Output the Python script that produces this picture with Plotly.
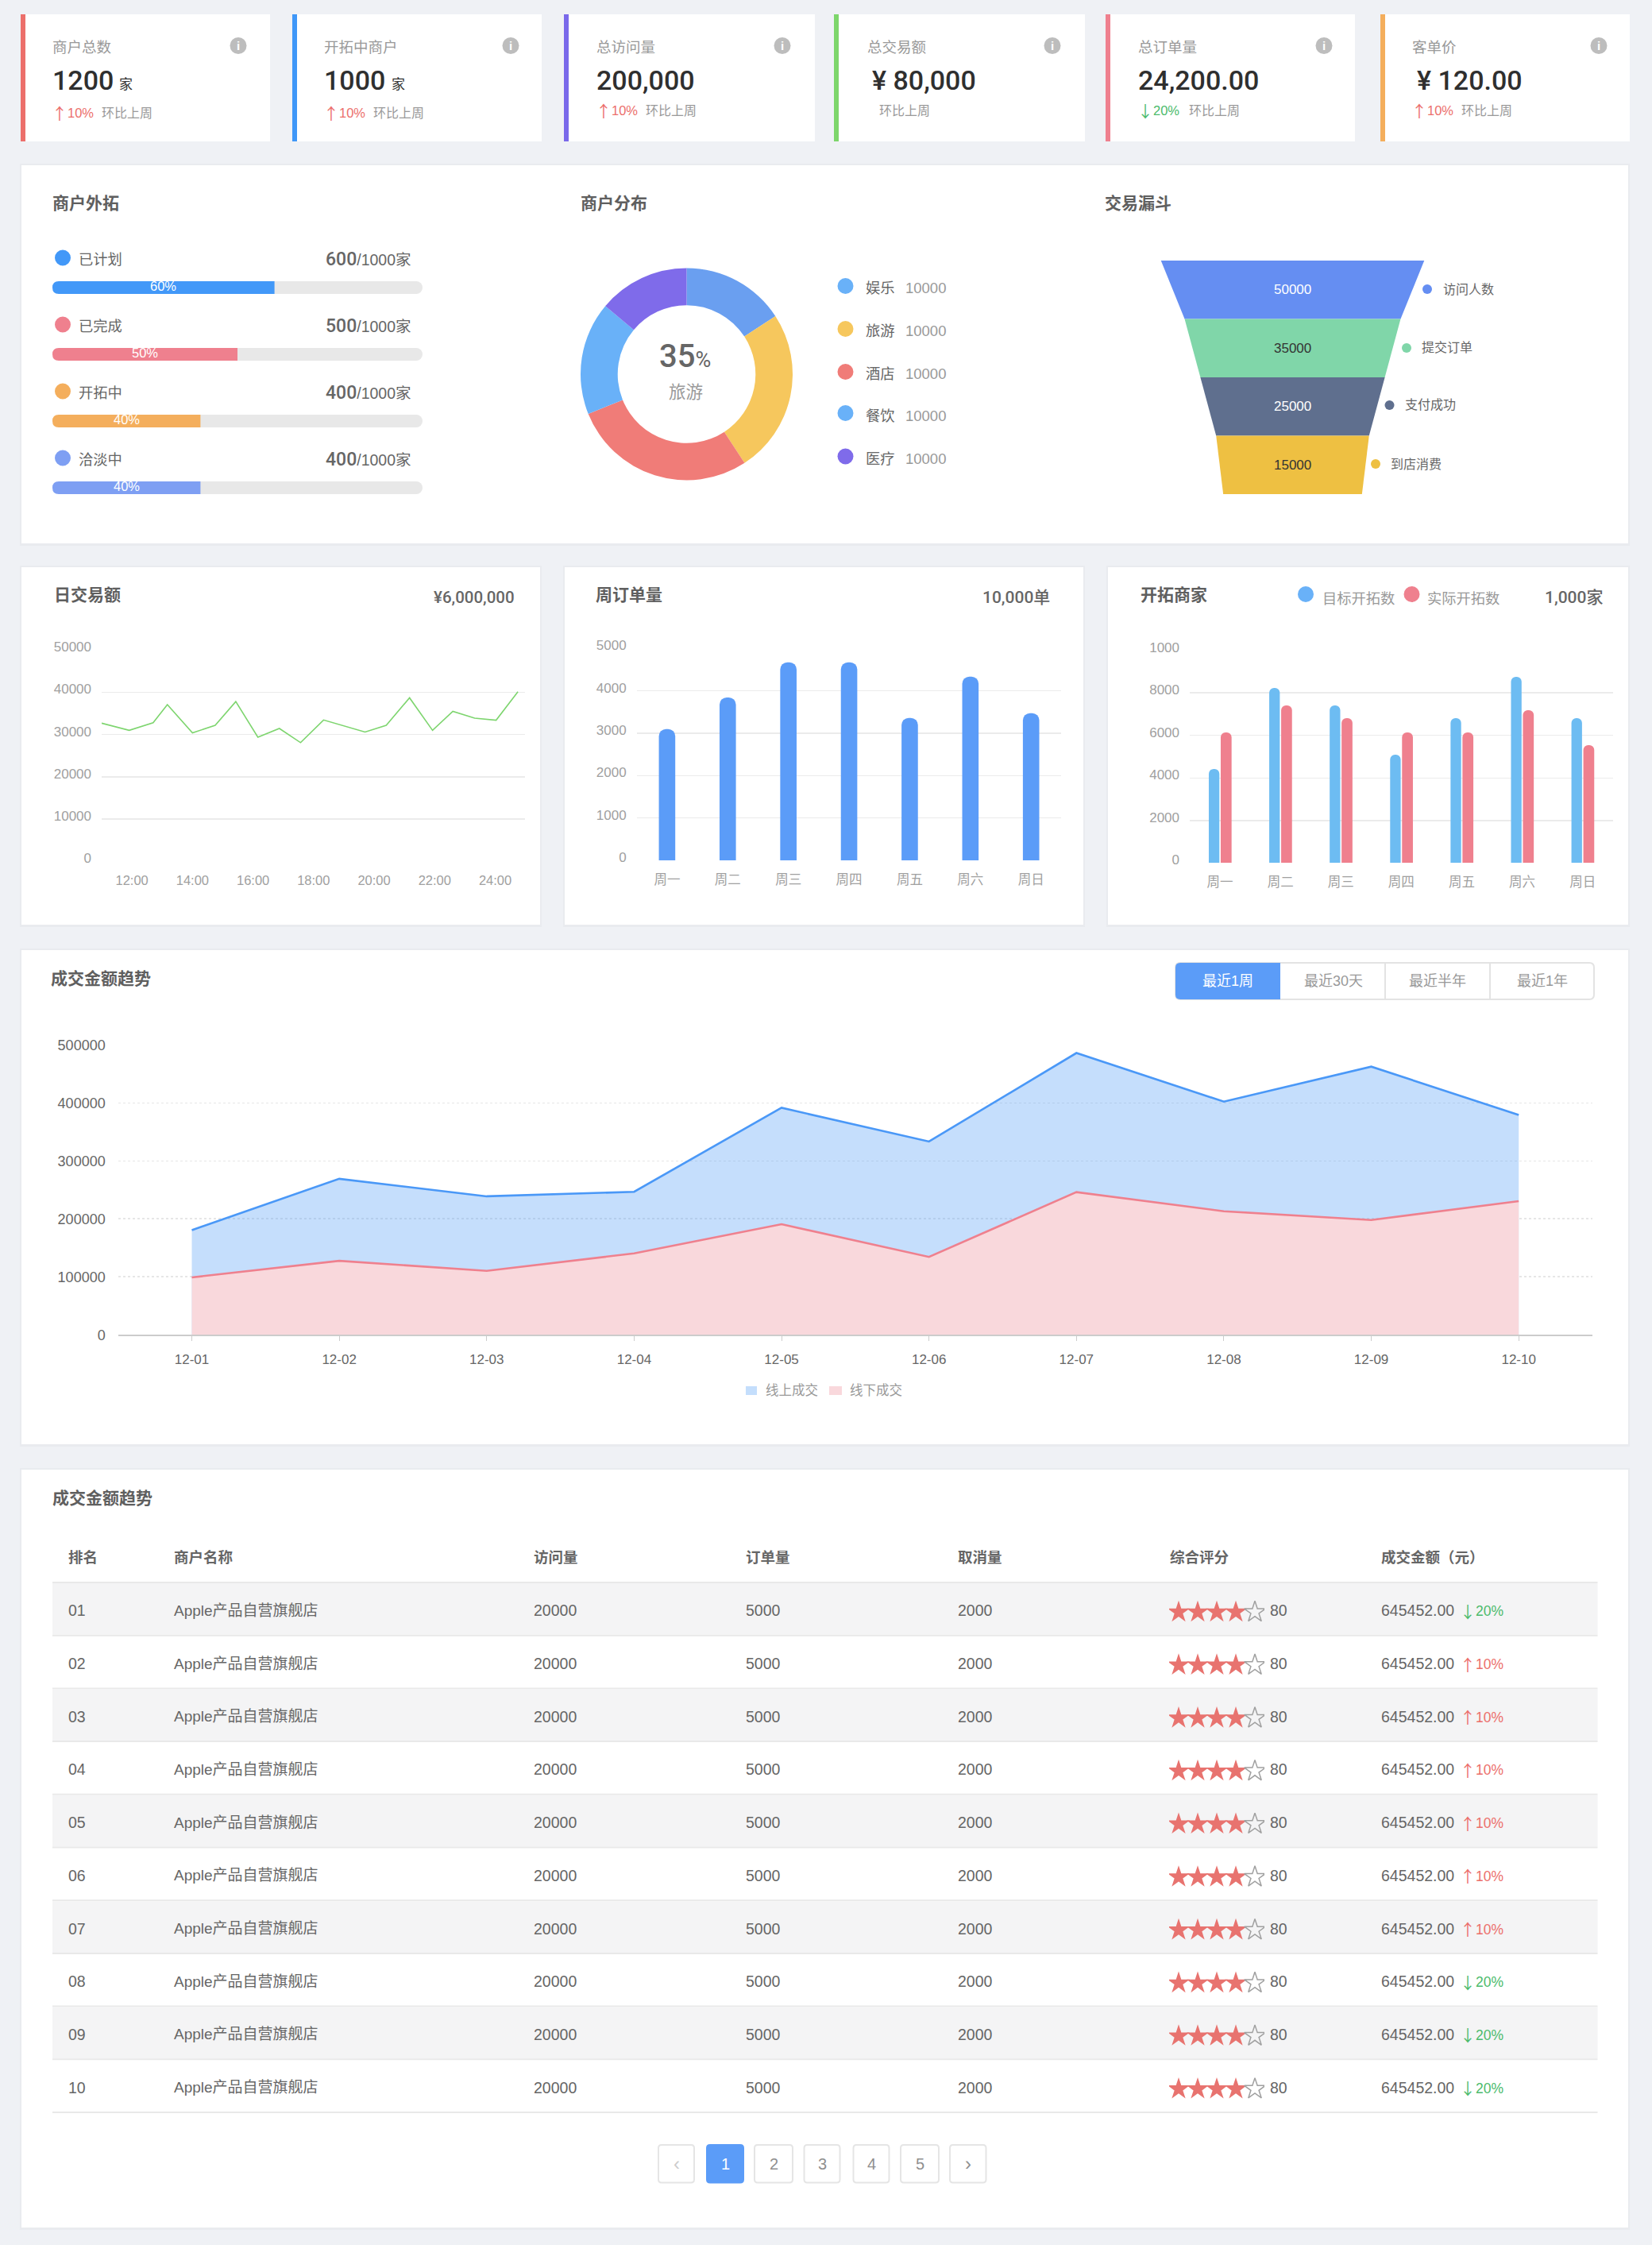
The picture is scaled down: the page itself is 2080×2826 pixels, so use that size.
import plotly.graph_objects as go

# ---------- data ----------
card_labels = ["商户总数", "开拓中商户", "总访问量", "总交易额", "总订单量", "客单价"]
card_values = ["1200", "1000", "200,000", "¥ 80,000", "24,200.00", "¥ 120.00"]
card_units = ["家", "家", "", "", "", ""]
card_delta = ["10%", "10%", "10%", "", "20%", "10%"]
card_dir = ["up", "up", "up", "", "down", "up"]

progress_labels = ["已计划", "已完成", "开拓中", "洽淡中"]
progress_values = [600, 500, 400, 400]
progress_total = 1000
progress_pct = ["60%", "50%", "40%", "40%"]

donut_labels = ["娱乐", "旅游", "酒店", "餐饮", "医疗"]
donut_slices = [158, 250, 281, 172, 139]
donut_legend_values = ["10000", "10000", "10000", "10000", "10000"]

funnel_labels = ["访问人数", "提交订单", "支付成功", "到店消费"]
funnel_values = [50000, 35000, 25000, 15000]
funnel_floor = 10500

day_hours = [11.0, 11.91, 12.7, 13.17, 14.0, 14.75, 15.43, 16.16, 16.87, 17.57,
             18.33, 19.7, 20.4, 21.17, 21.93, 22.6, 23.32, 24.03, 24.75]
day_values = [32700, 31000, 32800, 37100, 30400, 32200, 37800, 29400, 31450, 28100,
              33450, 30600, 32200, 38700, 31000, 35500, 33900, 33400, 40150]
day_ticks = [12, 14, 16, 18, 20, 22, 24]
day_ticktext = ["12:00", "14:00", "16:00", "18:00", "20:00", "22:00", "24:00"]

weekdays = ["周一", "周二", "周三", "周四", "周五", "周六", "周日"]
week_orders = [3100, 3844, 4675, 4675, 3362, 4337, 3475]
target_merchants = [4421, 8232, 7410, 5093, 6812, 8755, 6812]
actual_merchants = [6139, 7410, 6812, 6139, 6139, 7186, 5542]
merchant_ticks = [0, 2000, 4000, 6000, 8000, 10000]
merchant_ticktext = ["0", "2000", "4000", "6000", "8000", "1000"]

trend_dates = ["12-01", "12-02", "12-03", "12-04", "12-05", "12-06", "12-07", "12-08", "12-09", "12-10"]
trend_online = [180600, 269000, 238800, 246600, 391500, 333300, 486000, 402100, 462500, 379200]
trend_offline = [99000, 127500, 110200, 140400, 190700, 134200, 246100, 213100, 198000, 230400]
trend_buttons = ["最近1周", "最近30天", "最近半年", "最近1年"]

table_headers = ["排名", "商户名称", "访问量", "订单量", "取消量", "综合评分", "成交金额（元）"]
table_rank = ["01", "02", "03", "04", "05", "06", "07", "08", "09", "10"]
table_name = ["Apple产品自营旗舰店"] * 10
table_visits = ["20000"] * 10
table_orders = ["5000"] * 10
table_cancel = ["2000"] * 10
table_score = [80] * 10
table_amount = ["645452.00"] * 10
table_delta = ["20%", "10%", "10%", "10%", "10%", "10%", "10%", "20%", "20%", "20%"]
table_dir = ["down", "up", "up", "up", "up", "up", "up", "down", "down", "down"]
pages = ["‹", "1", "2", "3", "4", "5", "›"]

# ---------- canvas helpers ----------
W, H = 2080, 2826
BASE = "Liberation Sans, Noto Sans CJK SC, sans-serif"
CJK = "Noto Sans CJK SC, sans-serif"
NUM = "Roboto, Noto Sans CJK SC, sans-serif"
BG = "#eff1f5"
RED, GREEN = "#ec6f6b", "#4cbb6c"
GRID = "#ebebeb"
shapes, notes = [], []


def px(x):
    return x / W


def py(y):
    return 1 - y / H


def rect(x0, y0, x1, y1, fill, line=None, lw=0, layer="below"):
    shapes.append(dict(type="rect", xref="paper", yref="paper", x0=px(x0), x1=px(x1), y0=py(y1), y1=py(y0),
                       fillcolor=fill, line=dict(color=line or fill, width=lw), layer=layer))


def circle(cx, cy, d, fill):
    shapes.append(dict(type="circle", xref="paper", yref="paper", x0=px(cx - d / 2), x1=px(cx + d / 2),
                       y0=py(cy + d / 2), y1=py(cy - d / 2), fillcolor=fill, line=dict(width=0), layer="below"))


def rrect(x0, y0, x1, y1, r, fill, line=None, lw=0):
    X = lambda v: f"{px(v):.6f}"
    Y = lambda v: f"{py(v):.6f}"
    p = (f"M {X(x0+r)} {Y(y0)} L {X(x1-r)} {Y(y0)} Q {X(x1)} {Y(y0)} {X(x1)} {Y(y0+r)} "
         f"L {X(x1)} {Y(y1-r)} Q {X(x1)} {Y(y1)} {X(x1-r)} {Y(y1)} "
         f"L {X(x0+r)} {Y(y1)} Q {X(x0)} {Y(y1)} {X(x0)} {Y(y1-r)} "
         f"L {X(x0)} {Y(y0+r)} Q {X(x0)} {Y(y0)} {X(x0+r)} {Y(y0)} Z")
    shapes.append(dict(type="path", xref="paper", yref="paper", path=p, fillcolor=fill,
                       line=dict(color=line or fill, width=lw), layer="below"))


def corner_mask(x, y, r, sign):
    X = lambda v: f"{px(v):.6f}"
    Y = lambda v: f"{py(v):.6f}"
    p = f"M {X(x)} {Y(y)} L {X(x+r)} {Y(y)} Q {X(x)} {Y(y)} {X(x)} {Y(y+sign*r)} Z"
    shapes.append(dict(type="path", xref="paper", yref="paper", path=p, fillcolor="#ffffff",
                       line=dict(width=0), layer="above"))


def text(x, y, s, size=18, color="#666666", anchor="left", weight=None, family=BASE):
    f = dict(size=size, color=color, family=family)
    if weight:
        f["weight"] = weight
    notes.append(dict(xref="paper", yref="paper", x=px(x), y=py(y), xanchor=anchor, yanchor="middle",
                      showarrow=False, text=s, font=f, borderpad=0, borderwidth=0))


def panel(x0, y0, x1, y1):
    rect(x0 - 2, y0 - 2, x1 + 2, y1 + 3, "#e9ebef")
    rect(x0, y0, x1, y1, "#ffffff")


def title(x, y, s):
    text(x, y - 3, s, 21, "#5f5f5f", weight=700, family=CJK)


fig = go.Figure()

# ---------- KPI cards ----------
card_x0 = [26, 368, 710, 1050, 1392, 1738]
card_x1 = [340, 682, 1026, 1366, 1706, 2052]
card_col = ["#ec6f6b", "#3f97f8", "#7a69ea", "#7dd66b", "#ef808e", "#f4ae5c"]
label_x = [66, 408, 751, 1092, 1433, 1778]
value_x = [66, 408, 751, 1098, 1433, 1784]
icon_x = [300, 643, 985, 1325, 1667, 2013]
sub_x = [128, 470, 813, 1107, 1497, 1840]
unit_x = [150, 493]
sub_y = [142, 142, 139, 139, 139, 139]
for i in range(6):
    rect(card_x0[i], 18, card_x1[i], 178, "#ffffff")
    rect(card_x0[i], 18, card_x0[i] + 6, 178, card_col[i])
    text(label_x[i], 59.5, card_labels[i], 18.5, "#999999")
    text(value_x[i], 100.5, card_values[i], 34, "#2f2f2f", weight=500, family=NUM)
    if card_units[i]:
        text(unit_x[i], 106, card_units[i], 17, "#333333")
    circle(icon_x[i], 57.5, 21, "#bdbdbd")
    text(icon_x[i], 57.5, "i", 15, "#ffffff", "center", weight=700)
    if card_dir[i]:
        c = RED if card_dir[i] == "up" else GREEN
        text(label_x[i] - 1, sub_y[i], "↑" if card_dir[i] == "up" else "↓", 20, c, family=CJK)
        text(label_x[i] + 19, sub_y[i], card_delta[i], 16.5, c)
    text(sub_x[i], sub_y[i], "环比上周", 16, "#999999")

# ---------- outreach panel ----------
panel(27, 208, 2050, 684)
title(66, 256.5, "商户外拓")
title(731, 256.5, "商户分布")
title(1391, 256.5, "交易漏斗")

P_COL = ["#4298f8", "#ef808e", "#f4ae5c", "#7e9ff3"]
row_y = [362, 446, 530, 614]
for i in range(4):
    circle(79, row_y[i] - 37.5, 20, P_COL[i])
    text(99, row_y[i] - 35.5, progress_labels[i], 18.3, "#666666")
    text(518, row_y[i] - 35.5,
         f'<span style="font-size:23px;font-family:Roboto;font-weight:500">{progress_values[i]}</span>/{progress_total}家',
         19.5, "#666666", "right")
    corner_mask(66, row_y[i] - 8, 8, 1)
    corner_mask(66, row_y[i] + 8, 8, -1)

fig.add_trace(go.Bar(y=progress_labels, x=[progress_total] * 4, orientation="h", width=16 / 84, offsetgroup="p",
                     marker=dict(color="#e8e8e8", cornerradius=8), xaxis="x", yaxis="y", hoverinfo="skip"))
fig.add_trace(go.Bar(y=progress_labels, x=progress_values, orientation="h", width=16 / 84, offsetgroup="p",
                     marker=dict(color=P_COL, cornerradius=8), xaxis="x", yaxis="y", hoverinfo="skip"))
for v, lab, pct in zip(progress_values, progress_labels, progress_pct):
    notes.append(dict(xref="x", yref="y", x=v / 2, y=lab, text=pct, showarrow=False, yshift=2,
                      font=dict(size=16.5, color="#ffffff", family=BASE), borderpad=0))

# ---------- donut ----------
D_COL = ["#6a9ff0", "#f6c75d", "#f07c78", "#69b1f8", "#7f6bea"]
fig.add_trace(go.Pie(labels=donut_labels, values=donut_slices, hole=0.65, sort=False, direction="clockwise",
                     rotation=0, marker=dict(colors=D_COL, line=dict(width=0)), textinfo="none", showlegend=False,
                     domain=dict(x=[px(731), px(998)], y=[py(604.5), py(337.5)]), hoverinfo="skip"))
text(862, 448, '<span style="font-size:40px;font-weight:500">35</span><span style="font-size:27px">%</span>',
     27, "#666666", "center", family=NUM)
text(863, 493.5, "旅游", 21.5, "#999999", "center")
leg_y = [360, 414, 468, 520, 574.5]
for i in range(5):
    circle(1064.5, leg_y[i], 20, "#69b1f8" if i in (0, 3) else D_COL[i])
    text(1090, leg_y[i] + 3, donut_labels[i], 18.3, "#666666")
    text(1140, leg_y[i] + 3, donut_legend_values[i], 18.5, "#999999")

# ---------- funnel ----------
F_COL = ["#658ef2", "#80d6a9", "#5f6f8e", "#eec042"]
F_TXT = ["#ffffff", "#333333", "#ffffff", "#333333"]
F_BASE = 33500
edges = funnel_values + [funnel_floor]
for i in range(4):
    a, b = (edges[i] + F_BASE) / 2, (edges[i + 1] + F_BASE) / 2
    fig.add_trace(go.Scatter(x=[-a, a, b, -b, -a], y=[i, i, i + 1, i + 1, i], mode="none", fill="toself",
                             fillcolor=F_COL[i], xaxis="x2", yaxis="y2", hoverinfo="skip"))
    notes.append(dict(xref="x2", yref="y2", x=0, y=i + 0.5, text=str(funnel_values[i]), showarrow=False,
                      font=dict(size=17, color=F_TXT[i], family=BASE), borderpad=0))
f_dot = [1797, 1771, 1749.5, 1732]
f_lab = [1816.5, 1790, 1769, 1751]
f_y = [364, 438, 510, 584]
for i in range(4):
    circle(f_dot[i], f_y[i], 12, F_COL[i])
    text(f_lab[i], f_y[i], funnel_labels[i], 16, "#666666")

# ---------- row 2 panels ----------
panel(27, 714, 680, 1164)
panel(711, 714, 1364, 1164)
panel(1395, 714, 2050, 1164)
title(68, 750.5, "日交易额")
title(750, 750.5, "周订单量")
title(1436, 750.5, "开拓商家")
text(648, 752.5, "¥6,000,000", 20.5, "#666666", "right", weight=500, family=NUM)
text(1322, 752.5, "10,000单", 21, "#666666", "right", weight=500, family=NUM)
text(2018, 752.5, "1,000家", 21, "#666666", "right", weight=500, family=NUM)
circle(1644, 748, 20, "#69b1f8")
text(1665, 753, "目标开拓数", 18.3, "#999999")
circle(1777.5, 748, 20, "#ef808e")
text(1797, 753, "实际开拓数", 18.3, "#999999")

fig.add_trace(go.Scatter(x=day_hours, y=day_values, mode="lines", line=dict(color="#7ed56f", width=1.6),
                         xaxis="x3", yaxis="y3", hoverinfo="skip"))
fig.add_trace(go.Bar(x=weekdays, y=week_orders, width=0.27, marker=dict(color="#5b9cf8", cornerradius=9),
                     xaxis="x4", yaxis="y4", hoverinfo="skip"))
fig.add_trace(go.Bar(x=weekdays, y=target_merchants, width=0.175, offset=-0.185,
                     marker=dict(color="#6dbcf2", cornerradius=7), xaxis="x5", yaxis="y5", hoverinfo="skip"))
fig.add_trace(go.Bar(x=weekdays, y=actual_merchants, width=0.18, offset=0.012,
                     marker=dict(color="#ef808e", cornerradius=7), xaxis="x5", yaxis="y5", hoverinfo="skip"))

# ---------- trend panel ----------
panel(27, 1196, 2050, 1818)
title(64, 1233, "成交金额趋势")
rrect(1480, 1212, 2007, 1258, 6, "#ffffff", "#e3e3e3", 2)
rrect(1480, 1212, 1612, 1258, 6, "#5b9cf8")
rect(1598, 1212, 1612, 1258, "#5b9cf8")
for xs in (1744, 1876):
    rect(xs - 1, 1212, xs + 1, 1258, "#e3e3e3")
for xc, lab, col in zip((1546, 1679, 1810, 1942), trend_buttons, ("#ffffff", "#999999", "#999999", "#999999")):
    text(xc, 1235, lab, 18, col, "center")

fig.add_trace(go.Scatter(x=trend_dates, y=trend_online, mode="lines", fill="tozeroy",
                         fillcolor="rgba(74,152,247,0.32)", line=dict(color="#4a98f7", width=2.6),
                         xaxis="x6", yaxis="y6", hoverinfo="skip"))
fig.add_trace(go.Scatter(x=trend_dates, y=trend_offline, mode="lines", fill="tozeroy",
                         fillcolor="rgb(249,216,220)", line=dict(color="#ef808e", width=2.6),
                         xaxis="x6", yaxis="y6", hoverinfo="skip"))
rect(939, 1745, 953, 1756, "#c4defc")
text(964, 1750, "线上成交", 16.5, "#999999")
rect(1044, 1745, 1060, 1756, "#f9d8dc")
text(1070, 1750, "线下成交", 16.5, "#999999")

# ---------- table panel ----------
panel(27, 1850, 2050, 2804)
title(66, 1887, "成交金额趋势")
col_x = [86, 219, 672, 939, 1206, 1473, 1739]
for xc, lab in zip(col_x, table_headers):
    text(xc, 1959, lab, 18.5, "#666666", weight=700, family=CJK)
ROW0, PITCH = 1992, 66.7
rect(66, ROW0 - 1, 2011.5, ROW0 + 1, "#e9e9e9")
star_x_on, star_y_on, star_x_off, star_y_off = [], [], [], []
for r in range(10):
    top = ROW0 + PITCH * r
    if r % 2 == 0:
        rect(66, top + 1, 2011.5, top + PITCH - 1, "#f4f4f5")
    rect(66, top + PITCH - 1, 2011.5, top + PITCH + 1, "#e9e9e9")
    yc = top + PITCH / 2 + 2
    for xc, vals, sz in zip(col_x[:5], (table_rank, table_name, table_visits, table_orders, table_cancel),
                            (19.5, 19, 19.5, 19.5, 19.5)):
        text(xc, yc, vals[r], sz, "#666666")
    full = table_score[r] // 20
    for k in range(1, 6):
        if k <= full:
            star_x_on.append(k)
            star_y_on.append(r + 1)
        else:
            star_x_off.append(k)
            star_y_off.append(r + 1)
    text(1599, yc, str(table_score[r]), 19.5, "#666666")
    text(1739, yc, table_amount[r], 19.5, "#666666")
    c = RED if table_dir[r] == "up" else GREEN
    text(1838, yc + 1, "↑" if table_dir[r] == "up" else "↓", 20, c, family=CJK)
    text(1858, yc + 1, table_delta[r], 17.5, c)

fig.add_trace(go.Scatter(x=star_x_on, y=star_y_on, mode="markers",
                         marker=dict(symbol="star", size=21, color="#e8736f", line=dict(width=0)),
                         xaxis="x7", yaxis="y7", hoverinfo="skip"))
fig.add_trace(go.Scatter(x=star_x_off, y=star_y_off, mode="markers",
                         marker=dict(symbol="star-open", size=20, color="#a0a0a0", line=dict(width=1.5)),
                         xaxis="x7", yaxis="y7", hoverinfo="skip"))

# ---------- pagination ----------
box_x0 = [829, 890, 950, 1012.5, 1074.5, 1134, 1196]
box_x1 = [874, 936, 998, 1057.5, 1119.5, 1182, 1241.5]
for i, lab in enumerate(pages):
    on = lab == "1"
    rrect(box_x0[i], 2700, box_x1[i], 2747.5, 4, "#5b9cf8" if on else "#ffffff", "#5b9cf8" if on else "#e5e5e5", 2)
    col = "#ffffff" if on else ("#cccccc" if i == 0 else "#8f8f8f")
    text((box_x0[i] + box_x1[i]) / 2, 2723.5, lab, 20 if i not in (0, 6) else 24, col, "center")


# ---------- axes ----------
def dom_x(a, b):
    return [px(a), px(b)]


def dom_y(top, bottom):
    return [py(bottom), py(top)]


hidden = dict(showgrid=False, zeroline=False, showticklabels=False, ticks="", showline=False, fixedrange=True,
              automargin=False)
y_small = dict(showgrid=True, gridcolor=GRID, gridwidth=1.5, zeroline=False, showline=False, ticks="", automargin=False,
               tickformat="d", ticklabelstandoff=12, ticklabelshift=-4,
               tickfont=dict(size=17, color="#a0a0a0", family=BASE))
x_small = dict(showgrid=False, zeroline=False, showline=False, ticks="outside", ticklen=9, automargin=False,
               tickcolor="rgba(0,0,0,0)", tickfont=dict(size=16.5, color="#a0a0a0", family=BASE))
F_HALF = 166.5 / 0.00397

fig.update_layout(
    template="none", width=W, height=H, autosize=False, margin=dict(l=0, r=0, t=0, b=0, pad=0, autoexpand=False),
    paper_bgcolor=BG, plot_bgcolor="rgba(0,0,0,0)", showlegend=False, barmode="group",
    font=dict(family=BASE), shapes=shapes, annotations=notes, hovermode=False,
    xaxis=dict(domain=dom_x(66, 532), range=[0, progress_total], anchor="y", **hidden),
    yaxis=dict(domain=dom_y(320, 656), type="category", categoryorder="array", categoryarray=progress_labels,
               range=[3.5, -0.5], anchor="x", **hidden),
    xaxis2=dict(domain=dom_x(1461, 1794), range=[-F_HALF, F_HALF], anchor="y2", **hidden),
    yaxis2=dict(domain=dom_y(328, 622), range=[4, 0], anchor="x2", **hidden),
    xaxis3=dict(domain=dom_x(128, 660.5), range=[11, 24.97], anchor="y3", tickvals=day_ticks, ticktext=day_ticktext, **x_small),
    yaxis3=dict(domain=dom_y(818.3, 1084.3), range=[0, 50000], dtick=10000, anchor="x3", **y_small),
    xaxis4=dict(domain=dom_x(801.7, 1336.4), type="category", range=[-0.5, 6.5], anchor="y4", **x_small),
    yaxis4=dict(domain=dom_y(816.3, 1083), range=[0, 5000], dtick=1000, anchor="x4", **y_small),
    xaxis5=dict(domain=dom_x(1498, 2030.7), type="category", range=[-0.5, 6.5], anchor="y5", **x_small),
    yaxis5=dict(domain=dom_y(818.7, 1086.3), range=[0, 10000], tickvals=merchant_ticks, ticktext=merchant_ticktext,
                anchor="x5", **y_small),
    xaxis6=dict(domain=dom_x(148.7, 2005), type="category", range=[-0.5, 9.5], anchor="y6", showgrid=False,
                zeroline=False, showline=True, linecolor="#cccccc", linewidth=2, ticks="outside", ticklen=6,
                automargin=False, tickcolor="#cccccc", ticklabelstandoff=8,
                tickfont=dict(size=17, color="#666666", family=BASE)),
    yaxis6=dict(domain=dom_y(1315.3, 1680.2), range=[0, 500000], dtick=100000, anchor="x6", showgrid=True,
                gridcolor="#e6e6e6", griddash="dot", gridwidth=1.5, zeroline=False, showline=False, ticks="",
                automargin=False, tickformat="d", ticklabelstandoff=15,
                tickfont=dict(size=18, color="#666666", family=BASE)),
    xaxis7=dict(domain=dom_x(1472, 1592), range=[0.5, 5.5], anchor="y7", **hidden),
    yaxis7=dict(domain=dom_y(1992 + 4, 2659 + 4), range=[10.5, 0.5], anchor="x7", **hidden),
)

fig.write_html("out.html", config=dict(displayModeBar=False, staticPlot=True),
               post_script="document.body.style.margin='0';document.body.style.background='" + BG + "';")
